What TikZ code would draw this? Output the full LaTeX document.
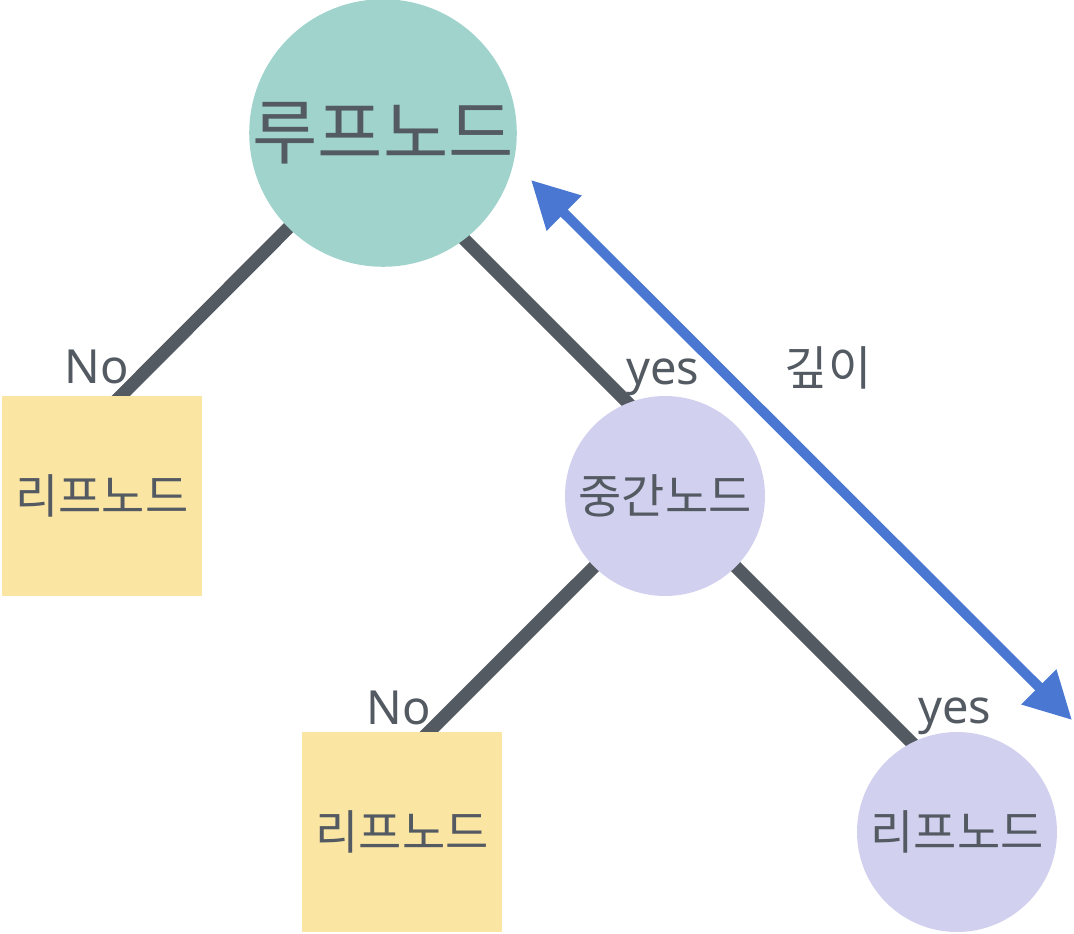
\documentclass[tikz,border=0pt]{standalone}
\usepackage{fontspec}
\setmainfont{Noto Sans}
\newfontfamily\kr{Noto Sans CJK KR}
\usetikzlibrary{arrows.meta,backgrounds}
\definecolor{teal1}{HTML}{9FD3CC}
\definecolor{yel1}{HTML}{FAE5A3}
\definecolor{lav1}{HTML}{D1D0EE}
\definecolor{gray1}{HTML}{545A62}
\definecolor{blue1}{HTML}{4A77D1}
\begin{document}
\begin{tikzpicture}[x=1pt,y=-1pt,
  txt/.style={text=gray1,font=\kr\fontsize{47}{52}\selectfont},
  bigcirc/.style={circle,fill=teal1,minimum size=262pt,inner sep=0pt,text=gray1,font=\kr\fontsize{71}{76}\selectfont},
  midcirc/.style={circle,fill=lav1,minimum size=200pt,inner sep=0pt,txt},
  leafsq/.style={rectangle,fill=yel1,minimum size=200pt,inner sep=0pt,txt},
  lbl/.style={text=gray1,font=\fontsize{47}{52}\selectfont,anchor=base,inner sep=0pt},
  edge/.style={draw=gray1,line width=13pt},
  depth/.style={draw=blue1,line width=10pt,{Triangle[length=47pt,width=47pt]}-{Triangle[length=47pt,width=47pt]}}
]
\useasboundingbox (0,0) rectangle (1074,934);
\node[bigcirc] (root) at (383,133) {루프노드};
\node[leafsq] (leftsq) at (102,496) {리프노드};
\node[midcirc] (mid) at (665,496) {중간노드};
\node[leafsq] (bsq) at (402,832) {리프노드};
\node[midcirc] (rc) at (957,832) {리프노드};
\node[lbl] (no1) at (97,383) {No};
\node[lbl] (yes1) at (663,384) {yes};
\node[lbl] (no2) at (399,724) {No};
\node[lbl] (yes2) at (955,723) {yes};
\node[txt] (dlab) at (828,368) {깊이};
\coordinate (dA) at (531,180);
\coordinate (dB) at (1072,720);
\begin{scope}[on background layer]
  \draw[edge] (root.center) -- ([xshift=-1pt,yshift=-20pt]leftsq.north);
  \draw[edge] ([xshift=-25pt]root.center) -- ([xshift=-5pt,yshift=61pt]mid.center);
  \draw[edge] (mid.center) -- ([xshift=7pt,yshift=-20pt]bsq.north);
  \draw[edge] (mid.center) -- ([xshift=-27pt,yshift=71pt]rc.center);
\end{scope}
\draw[depth] (dA) -- (dB);
\end{tikzpicture}
\end{document}
